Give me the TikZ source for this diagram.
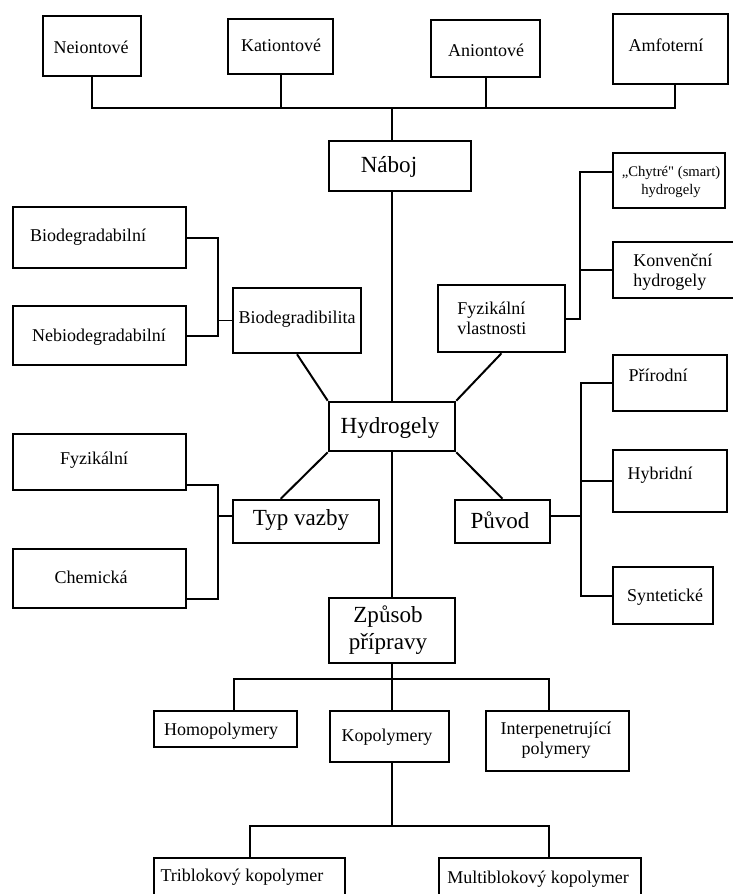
\documentclass[tikz,border=0pt]{standalone}
\usepackage{fontspec}
\setmainfont{Liberation Serif}[Ligatures=TeXOff]
\usetikzlibrary{fit,calc}
\begin{document}
\begin{tikzpicture}[x=0.75pt,y=-0.75pt,
  box/.style={draw=black, line width=1.9pt, inner sep=0pt},
  conn/.style={draw=black, line width=1.5pt},
  thinconn/.style={draw=black, line width=1.1pt},
  txt/.style={inner sep=0pt, font=\fontsize{13.5}{15}\selectfont, align=center},
  big/.style={inner sep=0pt, font=\fontsize{17.3}{20.3}\selectfont, align=center},
  sm/.style={inner sep=0pt, font=\fontsize{11}{13.5}\selectfont, align=center}]
\useasboundingbox (0,0) rectangle (733,894);
\clip (0,0) rectangle (733,894);
\fill[white] (0,0) rectangle (733,894);

% boxes
\node[box, fit={(43,16)(141,76)}] (neion) {};
\node[box, fit={(228,19)(333,74)}] (kation) {};
\node[box, fit={(431,20)(540,77)}] (anion) {};
\node[box, fit={(613,14)(728,84)}] (amfo) {};
\node[box, fit={(329,141)(471,191)}] (naboj) {};
\node[box, fit={(613,153)(725,208)}] (chytre) {};
\node[box, fit={(613,242)(736,298)}] (konv) {};
\node[box, fit={(13,207)(186,268)}] (biodeg) {};
\node[box, fit={(13,306)(186,365)}] (nebio) {};
\node[box, fit={(233,288)(361,353)}] (biodgr) {};
\node[box, fit={(438,285)(565,352)}] (fyzvl) {};
\node[box, fit={(613,355)(727,411)}] (prir) {};
\node[box, fit={(329,402)(455,451)}] (hydro) {};
\node[box, fit={(13,434)(186,490)}] (fyz) {};
\node[box, fit={(13,549)(186,608)}] (chem) {};
\node[box, fit={(233,500)(379,543)}] (typ) {};
\node[box, fit={(455,500)(550,543)}] (puvod) {};
\node[box, fit={(613,450)(727,512)}] (hybr) {};
\node[box, fit={(613,567)(713,624)}] (synt) {};
\node[box, fit={(329,598)(455,663)}] (zpusob) {};
\node[box, fit={(154,711)(297,747)}] (homo) {};
\node[box, fit={(330,711)(449,762)}] (kopo) {};
\node[box, fit={(486,711)(629,771)}] (inter) {};
\node[box, fit={(154,858)(345,905)}] (tribl) {};
\node[box, fit={(439,858)(641,905)}] (multi) {};

% texts
\node[txt] (tNeion) at (91,47) {Neiontové};
\node[txt] (tKation) at (281,45) {Kationtové};
\node[txt] (tAnion) at (486,50) {Aniontové};
\node[txt] (tAmfo) at (666,45) {Amfoterní};
\node[big] (tNaboj) at (389,167) {Náboj};
\node[sm] (tChytre) at (671,182) {„Chytré" (smart)\\hydrogely};
\node[txt, anchor=west, align=left] (tKonv) at (633,272) {Konvenční\\hydrogely};
\node[txt] (tBiodeg) at (88,237) {Biodegradabilní};
\node[txt] (tNebio) at (99,337) {Nebiodegradabilní};
\node[txt] (tBiodgr) at (297,319) {Biodegradibilita};
\node[txt, anchor=west, align=left] (tFyzvl) at (457,318) {Fyzikální\\vlastnosti};
\node[txt] (tPrir) at (658,375) {Přírodní};
\node[big] (tHydro) at (390,428) {Hydrogely};
\node[txt] (tFyz) at (94,460) {Fyzikální};
\node[txt] (tChem) at (91,577) {Chemická};
\node[big] (tTyp) at (301,520) {Typ vazby};
\node[big] (tPuvod) at (500,520) {Původ};
\node[txt] (tHybr) at (660,475) {Hybridní};
\node[txt] (tSynt) at (665,597) {Syntetické};
\node[big] (tZpusob) at (388,630) {Způsob\\přípravy};
\node[txt] (tHomo) at (221,731) {Homopolymery};
\node[txt] (tKopo) at (387,737) {Kopolymery};
\node[txt] (tInter) at (556,740) {Interpenetrující\\polymery};
\node[txt] (tTribl) at (242,877) {Triblokový kopolymer};
\node[txt] (tMulti) at (538,879) {Multiblokový kopolymer};

% top bus
\coordinate (bus) at (392,108);
\draw[conn] (neion.south) |- (bus) -| ($(amfo.south)+(4.5,0)$);
\draw[conn] (kation.south) -- (kation.south |- bus);
\draw[conn] (anion.south) -- (anion.south |- bus);
\draw[conn] (bus) -- (bus |- naboj.north);
\draw[conn] (hydro.north |- naboj.south) -- (hydro.north);
\draw[conn] (hydro.south) -- (zpusob.north);

% biodegradability
\coordinate (jB) at (218,320.5);
\draw[conn] (biodeg.east) -| (jB) |- (nebio.east);
\draw[thinconn] (jB) -- (jB -| biodgr.west);

% physical properties
\coordinate (jF) at (581,320);
\draw[conn] (fyzvl.east) -| ($(chytre.north west)+(-32,20)$) -- ($(chytre.north west)+(0,20)$);
\draw[conn] (konv.west) -- (konv.west -| jF);

% origin
\coordinate (jP) at (581,516);
\draw[conn] (prir.west) -| (jP) |- (synt.west);
\draw[conn] (hybr.west) -- (hybr.west -| jP);
\draw[thinconn] (jP -| puvod.east) -- (jP);

% bond type
\coordinate (jT) at (218,516);
\draw[conn] ($(fyz.south east)+(0,-6)$) -| (jT) |- ($(chem.south east)+(0,-10)$);
\draw[thinconn] (jT) -- (jT -| typ.west);

% diagonals
\draw[conn] (biodgr.south) -- (hydro.north west);
\draw[conn] (fyzvl.south) -- (hydro.north east);
\draw[conn] ($(typ.north west)+(49,0)$) -- (hydro.south west);
\draw[conn] (puvod.north) -- (hydro.south east);

% preparation
\coordinate (bus2) at (392,679);
\draw[conn] (zpusob.south) -- (bus2);
\draw[conn] ($(homo.north)+(8.5,0)$) |- (bus2) -| ($(inter.north)+(-8.5,0)$);
\draw[conn] (bus2) -- (bus2 |- kopo.north);
\coordinate (bus3) at (392,826);
\draw[conn] (kopo.south -| bus3) -- (bus3);
\draw[conn] (tribl.north) |- (bus3) -| ($(multi.north)+(9,0)$);
\end{tikzpicture}
\end{document}
